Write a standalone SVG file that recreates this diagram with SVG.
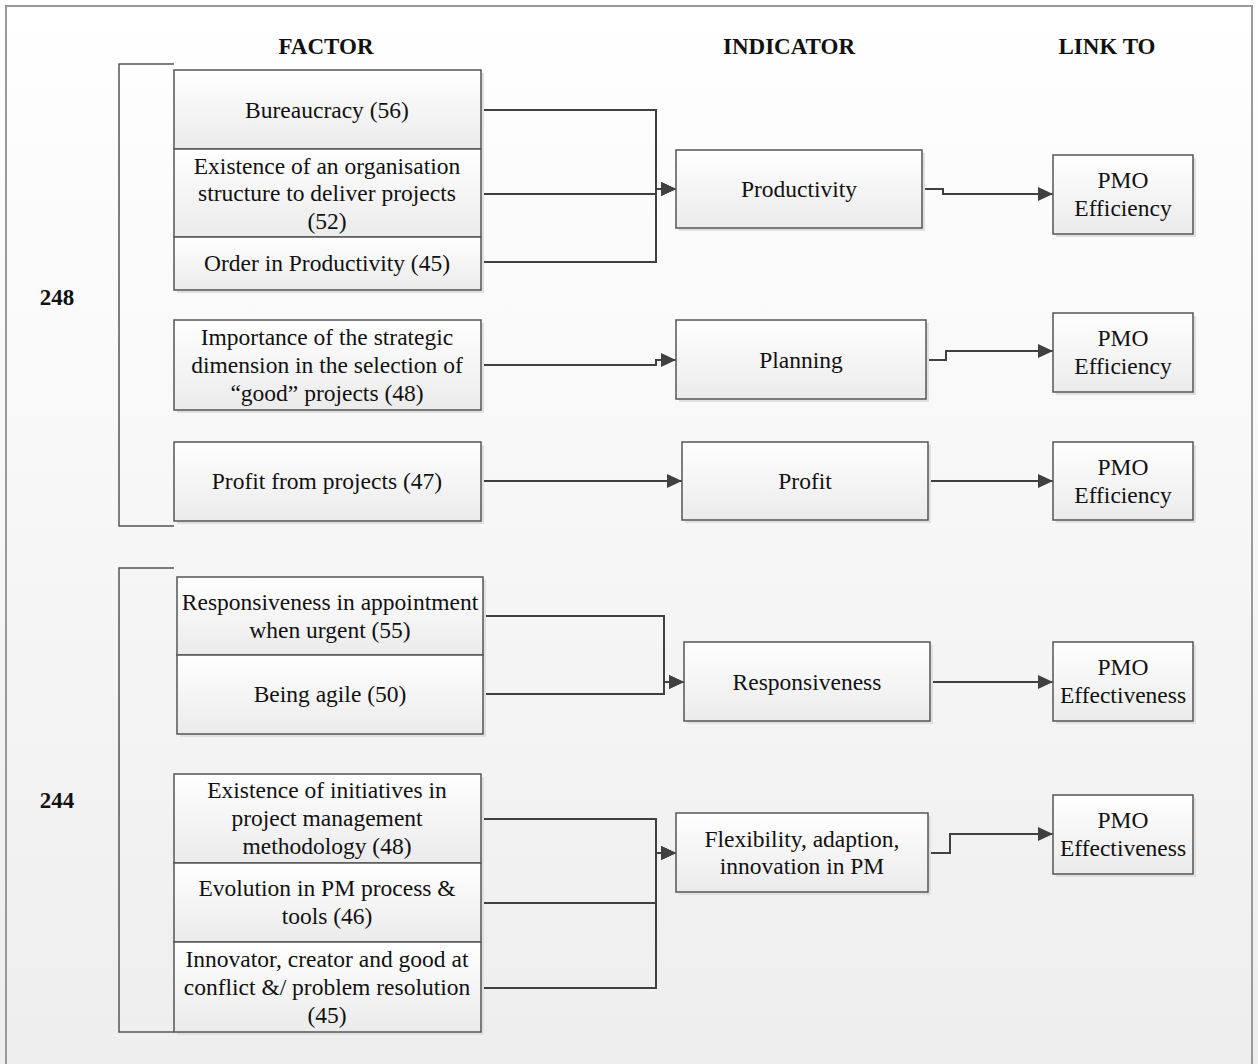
<svg xmlns="http://www.w3.org/2000/svg" width="1258" height="1064" viewBox="0 0 1258 1064">
<defs>
<linearGradient id="bg" x1="0" y1="0" x2="0" y2="1"><stop offset="0" stop-color="#ffffff"/><stop offset="1" stop-color="#eeeeee"/></linearGradient>
<linearGradient id="bx" x1="0" y1="0" x2="0" y2="1"><stop offset="0" stop-color="#ffffff"/><stop offset="1" stop-color="#ebebeb"/></linearGradient>
<marker id="ar" markerUnits="userSpaceOnUse" markerWidth="15" markerHeight="14" viewBox="0 0 15 14" refX="15" refY="7" orient="auto"><path d="M0,0 L15,7 L0,14 z" fill="#404040"/></marker>
</defs>
<style>
.sh{fill:#e0e0e0}
.box{fill:url(#bx);stroke:#555;stroke-width:1.5}
text{font-family:'Liberation Serif','Times New Roman',Times,serif;font-size:23.5px;fill:#111;text-anchor:middle}
.h{font-weight:bold;font-size:23px}
.c{fill:none;stroke:#404040;stroke-width:2}
.br{fill:none;stroke:#555;stroke-width:1.5}
</style>
<rect x="0" y="0" width="1258" height="1064" fill="url(#bg)"/>
<rect x="6" y="6" width="1246" height="1070" fill="none" stroke="#999" stroke-width="2"/>
<g id="headers">
<text class="h" x="326" y="54">FACTOR</text>
<text class="h" x="789" y="54">INDICATOR</text>
<text class="h" x="1107" y="54">LINK TO</text>
</g>
<g id="bracket1"><path class="br" d="M174,64 H119 V526 H174"/><text class="h" x="57" y="305">248</text></g>
<g id="bracket2"><path class="br" d="M174,568 H119 V1032 H174"/><text class="h" x="57" y="808">244</text></g>
<g id="connectors">
<path class="c" d="M481,110 H656 V189 H676" marker-end="url(#ar)"/>
<path class="c" d="M481,194 H656 V189 H676" marker-end="url(#ar)"/>
<path class="c" d="M481,262 H656 V189 H676" marker-end="url(#ar)"/>
<path class="c" d="M922,189 H943 V194 H1053" marker-end="url(#ar)"/>
<path class="c" d="M481,365 H656 V360 H676" marker-end="url(#ar)"/>
<path class="c" d="M926,360 H946 V351 H1053" marker-end="url(#ar)"/>
<path class="c" d="M481,481 H682" marker-end="url(#ar)"/>
<path class="c" d="M928,481 H1053" marker-end="url(#ar)"/>
<path class="c" d="M483,616 H664 V682 H684" marker-end="url(#ar)"/>
<path class="c" d="M483,694 H664 V682 H684" marker-end="url(#ar)"/>
<path class="c" d="M930,682 H1053" marker-end="url(#ar)"/>
<path class="c" d="M481,819 H656 V853 H676" marker-end="url(#ar)"/>
<path class="c" d="M481,903 H656 V853 H676" marker-end="url(#ar)"/>
<path class="c" d="M481,988 H656 V853 H676" marker-end="url(#ar)"/>
<path class="c" d="M928,853 H950 V834 H1053" marker-end="url(#ar)"/>
</g>
<g id="f-bureaucracy"><rect class="sh" x="177" y="73" width="307" height="79"/><rect class="box" x="174" y="70" width="307" height="79"/><text x="327" y="118">Bureaucracy (56)</text></g>
<g id="f-structure"><rect class="sh" x="177" y="152" width="307" height="88"/><rect class="box" x="174" y="149" width="307" height="88"/><text x="327" y="173.5">Existence of an organisation</text><text x="327" y="201">structure to deliver projects</text><text x="327" y="228.5">(52)</text></g>
<g id="f-order"><rect class="sh" x="177" y="240" width="307" height="53"/><rect class="box" x="174" y="237" width="307" height="53"/><text x="327" y="271">Order in Productivity (45)</text></g>
<g id="i-productivity"><rect class="sh" x="679" y="153" width="246" height="78"/><rect class="box" x="676" y="150" width="246" height="78"/><text x="799" y="197">Productivity</text></g>
<g id="l-eff1"><rect class="sh" x="1056" y="158" width="140" height="79"/><rect class="box" x="1053" y="155" width="140" height="79"/><text x="1123" y="188">PMO</text><text x="1123" y="216">Efficiency</text></g>
<g id="f-strategic"><rect class="sh" x="177" y="323" width="307" height="90"/><rect class="box" x="174" y="320" width="307" height="90"/><text x="327" y="345">Importance of the strategic</text><text x="327" y="373">dimension in the selection of</text><text x="327" y="401">“good” projects (48)</text></g>
<g id="i-planning"><rect class="sh" x="679" y="323" width="250" height="79"/><rect class="box" x="676" y="320" width="250" height="79"/><text x="801" y="368">Planning</text></g>
<g id="l-eff2"><rect class="sh" x="1056" y="316" width="140" height="79"/><rect class="box" x="1053" y="313" width="140" height="79"/><text x="1123" y="346">PMO</text><text x="1123" y="374">Efficiency</text></g>
<g id="f-profit"><rect class="sh" x="177" y="445" width="307" height="79"/><rect class="box" x="174" y="442" width="307" height="79"/><text x="327" y="489">Profit from projects (47)</text></g>
<g id="i-profit"><rect class="sh" x="685" y="445" width="246" height="78"/><rect class="box" x="682" y="442" width="246" height="78"/><text x="805" y="489">Profit</text></g>
<g id="l-eff3"><rect class="sh" x="1056" y="445" width="140" height="78"/><rect class="box" x="1053" y="442" width="140" height="78"/><text x="1123" y="475">PMO</text><text x="1123" y="503">Efficiency</text></g>
<g id="f-appointment"><rect class="sh" x="180" y="580" width="306" height="78"/><rect class="box" x="177" y="577" width="306" height="78"/><text x="330" y="610">Responsiveness in appointment</text><text x="330" y="638">when urgent (55)</text></g>
<g id="f-agile"><rect class="sh" x="180" y="658" width="306" height="79"/><rect class="box" x="177" y="655" width="306" height="79"/><text x="330" y="702">Being agile (50)</text></g>
<g id="i-responsiveness"><rect class="sh" x="687" y="645" width="246" height="79"/><rect class="box" x="684" y="642" width="246" height="79"/><text x="807" y="690">Responsiveness</text></g>
<g id="l-effe1"><rect class="sh" x="1056" y="645" width="140" height="79"/><rect class="box" x="1053" y="642" width="140" height="79"/><text x="1123" y="675">PMO</text><text x="1123" y="703">Effectiveness</text></g>
<g id="f-initiatives"><rect class="sh" x="177" y="777" width="307" height="89"/><rect class="box" x="174" y="774" width="307" height="89"/><text x="327" y="798">Existence of initiatives in</text><text x="327" y="826">project management</text><text x="327" y="854">methodology (48)</text></g>
<g id="f-evolution"><rect class="sh" x="177" y="866" width="307" height="79"/><rect class="box" x="174" y="863" width="307" height="79"/><text x="327" y="896">Evolution in PM process &amp;</text><text x="327" y="924">tools (46)</text></g>
<g id="f-innovator"><rect class="sh" x="177" y="945" width="307" height="90"/><rect class="box" x="174" y="942" width="307" height="90"/><text x="327" y="967">Innovator, creator and good at</text><text x="327" y="995">conflict &amp;/ problem resolution</text><text x="327" y="1023">(45)</text></g>
<g id="i-flexibility"><rect class="sh" x="679" y="816" width="252" height="79"/><rect class="box" x="676" y="813" width="252" height="79"/><text x="802" y="847">Flexibility, adaption,</text><text x="802" y="874">innovation in PM</text></g>
<g id="l-effe2"><rect class="sh" x="1056" y="798" width="140" height="79"/><rect class="box" x="1053" y="795" width="140" height="79"/><text x="1123" y="828">PMO</text><text x="1123" y="856">Effectiveness</text></g>
</svg>
